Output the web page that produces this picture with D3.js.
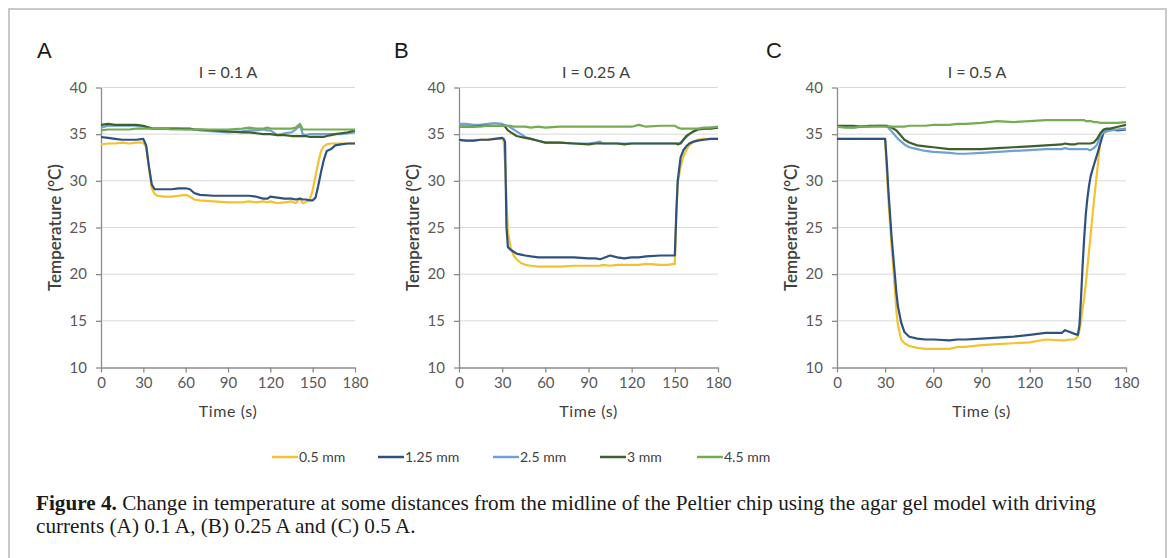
<!DOCTYPE html>
<html>
<head>
<meta charset="utf-8">
<script src="https://cdn.jsdelivr.net/npm/d3@7"></script>
<style>
  html, body { margin: 0; padding: 0; background: #fff; }
  svg { display: block; }
  .tick text { font-family: Lato, "Open Sans", sans-serif; font-size: 15px; fill: #595959; }
</style>
</head>
<body>
<svg id="chart" width="1171" height="558"></svg>
<script>
// ---- data ----
const seriesNames = ["0.5 mm", "1.25 mm", "2.5 mm", "3 mm", "4.5 mm"];
const seriesColors = ["#f4c131", "#2d5181", "#6ea2d5", "#3e5e2b", "#74ad50"];
const xTicks = [0, 30, 60, 90, 120, 150, 180];
const yTicks = [10, 15, 20, 25, 30, 35, 40];

// panel A, I = 0.1 A
const timeA = [0, 5, 10, 15, 20, 25, 30, 32, 34, 36, 38, 40, 45, 50, 55, 60, 63, 66, 70, 80, 90, 100, 105, 110, 115, 118, 120, 125, 130, 135, 138, 141, 143, 145, 148, 150, 152, 154, 156, 158, 160, 163, 166, 170, 175, 180];
const a05  = [33.9, 34.0, 34.0, 34.1, 34.0, 34.1, 34.1, 33.6, 31.4, 29.2, 28.6, 28.4, 28.3, 28.3, 28.4, 28.5, 28.3, 28.0, 27.9, 27.8, 27.7, 27.7, 27.8, 27.7, 27.8, 27.7, 27.8, 27.6, 27.7, 27.8, 27.6, 28.1, 27.6, 27.7, 28.0, 29.0, 30.5, 32.0, 33.2, 33.7, 33.9, 34.0, 34.0, 34.0, 34.0, 34.0];
const a125 = [34.7, 34.6, 34.5, 34.4, 34.4, 34.4, 34.5, 33.8, 31.5, 29.6, 29.1, 29.1, 29.1, 29.1, 29.2, 29.2, 29.1, 28.7, 28.5, 28.4, 28.4, 28.4, 28.4, 28.3, 28.1, 28.1, 28.3, 28.2, 28.1, 28.1, 28.0, 28.1, 28.0, 28.0, 27.9, 27.9, 28.2, 29.5, 31.0, 32.3, 33.2, 33.4, 33.8, 33.9, 34.0, 34.0];
const a25  = [35.7, 35.9, 35.9, 35.9, 35.9, 35.9, 35.8, 35.8, 35.7, 35.6, 35.6, 35.6, 35.6, 35.6, 35.6, 35.5, 35.5, 35.5, 35.4, 35.3, 35.2, 35.3, 35.4, 35.4, 35.5, 35.4, 35.4, 34.9, 35.1, 35.2, 35.5, 35.9, 35.0, 34.9, 35.0, 35.0, 35.0, 35.0, 35.0, 35.0, 35.0, 35.0, 35.0, 35.0, 35.1, 35.2];
const a3   = [36.0, 36.1, 36.0, 36.0, 36.0, 36.0, 35.9, 35.8, 35.7, 35.6, 35.6, 35.6, 35.6, 35.6, 35.6, 35.6, 35.6, 35.5, 35.5, 35.4, 35.3, 35.2, 35.2, 35.1, 35.0, 35.0, 35.0, 34.9, 34.9, 34.8, 34.8, 34.8, 34.8, 34.8, 34.7, 34.7, 34.7, 34.7, 34.7, 34.7, 34.8, 34.9, 35.0, 35.1, 35.2, 35.4];
const a45  = [35.4, 35.5, 35.5, 35.5, 35.5, 35.6, 35.6, 35.6, 35.6, 35.6, 35.6, 35.6, 35.6, 35.5, 35.5, 35.5, 35.5, 35.5, 35.5, 35.5, 35.5, 35.6, 35.7, 35.6, 35.6, 35.7, 35.6, 35.6, 35.6, 35.6, 35.7, 36.1, 35.5, 35.5, 35.5, 35.5, 35.5, 35.5, 35.5, 35.5, 35.5, 35.5, 35.5, 35.5, 35.5, 35.5];

// panel B, I = 0.25 A
const timeB = [0, 5, 10, 15, 20, 25, 30, 31, 32, 33, 34, 36, 38, 40, 43, 46, 50, 55, 60, 70, 80, 90, 95, 98, 100, 105, 110, 115, 120, 125, 130, 140, 145, 150, 151, 152, 154, 156, 158, 160, 163, 166, 170, 175, 180];
const b05  = [34.3, 34.3, 34.3, 34.4, 34.4, 34.5, 34.5, 34.3, 32.0, 28.0, 24.5, 22.8, 22.0, 21.6, 21.2, 21.0, 20.9, 20.8, 20.8, 20.8, 20.9, 20.9, 20.9, 20.9, 21.0, 20.9, 21.0, 21.0, 21.0, 21.0, 21.1, 21.0, 21.0, 21.1, 26.0, 29.8, 31.5, 32.6, 33.3, 33.8, 34.2, 34.4, 34.5, 34.5, 34.5];
const b125 = [34.4, 34.3, 34.3, 34.4, 34.4, 34.5, 34.6, 34.5, 34.2, 25.0, 22.9, 22.6, 22.4, 22.2, 22.1, 22.0, 21.9, 21.8, 21.8, 21.8, 21.8, 21.7, 21.7, 21.6, 21.7, 22.0, 21.8, 21.7, 21.8, 21.8, 21.9, 22.0, 22.0, 22.0, 26.5, 30.0, 32.5, 33.3, 33.7, 34.0, 34.2, 34.3, 34.4, 34.5, 34.5];
const b25  = [36.1, 36.1, 36.0, 36.0, 36.1, 36.2, 36.1, 36.0, 36.0, 35.9, 35.9, 35.7, 35.5, 35.3, 35.0, 34.7, 34.5, 34.3, 34.1, 34.1, 34.0, 34.0, 34.1, 34.2, 34.0, 34.0, 34.0, 34.0, 34.0, 34.0, 34.0, 34.0, 34.0, 34.0, 34.0, 34.0, 34.1, 34.4, 34.7, 35.0, 35.3, 35.5, 35.6, 35.7, 35.7];
const b3   = [35.8, 35.8, 35.8, 35.9, 35.9, 35.9, 35.9, 35.9, 35.8, 35.6, 35.4, 35.2, 35.0, 34.8, 34.7, 34.6, 34.5, 34.3, 34.1, 34.1, 34.0, 33.9, 34.0, 34.0, 34.0, 34.0, 34.0, 33.9, 34.0, 34.0, 34.0, 34.0, 34.0, 34.0, 34.0, 33.9, 34.0, 34.4, 34.8, 35.0, 35.3, 35.5, 35.6, 35.6, 35.7];
const b45  = [35.8, 35.8, 35.8, 35.8, 35.9, 35.9, 35.9, 35.9, 35.9, 35.9, 35.9, 35.9, 35.8, 35.8, 35.8, 35.8, 35.7, 35.8, 35.7, 35.8, 35.8, 35.8, 35.8, 35.8, 35.8, 35.8, 35.8, 35.8, 35.8, 36.0, 35.8, 35.9, 35.9, 35.9, 35.8, 35.7, 35.6, 35.6, 35.6, 35.6, 35.6, 35.6, 35.7, 35.7, 35.8];

// panel C, I = 0.5 A
const timeC = [0, 5, 10, 15, 20, 25, 29, 30, 31, 32, 33, 34, 35, 36, 37, 38, 40, 42, 45, 50, 55, 60, 70, 75, 80, 90, 100, 110, 120, 130, 140, 142, 145, 148, 150, 151, 152, 153, 154, 155, 156, 157, 158, 160, 162, 164, 166, 168, 170, 175, 180];
const c05  = [34.5, 34.5, 34.5, 34.5, 34.5, 34.5, 34.5, 34.4, 31.0, 28.0, 25.5, 23.0, 20.8, 18.5, 16.0, 14.5, 13.0, 12.6, 12.3, 12.1, 12.0, 12.0, 12.0, 12.2, 12.2, 12.4, 12.5, 12.6, 12.7, 13.0, 12.9, 12.9, 13.0, 13.0, 13.3, 14.0, 15.0, 16.3, 17.5, 19.0, 20.8, 22.5, 24.3, 27.8, 31.0, 34.2, 35.1, 35.3, 35.4, 35.5, 35.6];
const c125 = [34.5, 34.5, 34.5, 34.5, 34.5, 34.5, 34.5, 34.5, 32.0, 29.0, 26.5, 24.0, 22.0, 20.0, 18.0, 16.5, 14.8, 13.8, 13.3, 13.1, 13.0, 13.0, 12.9, 13.0, 13.0, 13.1, 13.2, 13.3, 13.5, 13.7, 13.7, 14.0, 13.8, 13.6, 13.5, 14.5, 17.5, 21.0, 24.0, 26.5, 28.2, 29.5, 30.5, 31.7, 32.8, 34.0, 35.2, 35.4, 35.5, 35.4, 35.5];
const c25  = [35.8, 35.8, 35.7, 35.8, 35.8, 35.9, 35.9, 35.9, 35.8, 35.7, 35.5, 35.3, 35.1, 34.9, 34.7, 34.5, 34.2, 33.9, 33.6, 33.4, 33.2, 33.1, 33.0, 32.9, 32.9, 33.0, 33.1, 33.2, 33.3, 33.4, 33.4, 33.5, 33.4, 33.4, 33.4, 33.4, 33.4, 33.4, 33.4, 33.4, 33.4, 33.3, 33.3, 33.5, 33.9, 34.8, 35.2, 35.3, 35.4, 35.5, 35.6];
const c3   = [35.9, 35.9, 35.9, 35.8, 35.9, 35.9, 35.9, 35.9, 35.9, 35.8, 35.8, 35.7, 35.6, 35.5, 35.4, 35.2, 34.8, 34.4, 34.1, 33.8, 33.7, 33.6, 33.4, 33.4, 33.4, 33.4, 33.5, 33.6, 33.7, 33.8, 33.9, 34.0, 33.9, 33.9, 34.0, 34.0, 34.0, 34.0, 34.0, 34.0, 34.0, 34.0, 34.0, 34.1, 34.5, 35.1, 35.5, 35.6, 35.6, 35.8, 36.0];
const c45  = [35.8, 35.7, 35.7, 35.8, 35.8, 35.8, 35.8, 35.8, 35.8, 35.8, 35.8, 35.8, 35.8, 35.8, 35.8, 35.8, 35.8, 35.8, 35.9, 35.9, 35.9, 36.0, 36.0, 36.1, 36.1, 36.2, 36.4, 36.3, 36.4, 36.5, 36.5, 36.5, 36.5, 36.5, 36.5, 36.5, 36.5, 36.5, 36.5, 36.4, 36.4, 36.4, 36.4, 36.3, 36.3, 36.2, 36.2, 36.2, 36.2, 36.2, 36.3];

const panels = [
    { letter: "A", title: "I = 0.1 A",  time: timeA, values: [a05, a125, a25, a3, a45], left: 101, right: 355,  letterX: 37,  titleX: 228 },
    { letter: "B", title: "I = 0.25 A", time: timeB, values: [b05, b125, b25, b3, b45], left: 459, right: 718,  letterX: 394, titleX: 596 },
    { letter: "C", title: "I = 0.5 A",  time: timeC, values: [c05, c125, c25, c3, c45], left: 837, right: 1126, letterX: 766, titleX: 977 }
];

const captionBold = "Figure 4.";
const captionLines = [
    " Change in temperature at some distances from the midline of the Peltier chip using the agar gel model with driving",
    "currents (A) 0.1 A, (B) 0.25 A and (C) 0.5 A."
];

// ---- drawing ----
const svg = d3.select("#chart");
const plotTop = 87.5, plotBottom = 367.5;
const sansFont = "Lato, 'Open Sans', sans-serif";
const serifFont = "'Liberation Serif', 'Times New Roman', serif";

// outer frame
svg.append("rect")
    .attr("x", 9).attr("y", 9)
    .attr("width", 1157).attr("height", 570)
    .attr("fill", "none")
    .attr("stroke", "#c9c9c9")
    .attr("stroke-width", 2);

const y = d3.scaleLinear().domain([10, 40]).range([plotBottom, plotTop]);

panels.forEach(p => {
    const x = d3.scaleLinear().domain([0, 180]).range([p.left, p.right]);
    const g = svg.append("g");

    // gridlines
    g.selectAll("line.grid")
        .data(yTicks.filter(t => t > 10))
        .enter().append("line")
        .attr("class", "grid")
        .attr("x1", p.left).attr("x2", p.right)
        .attr("y1", d => y(d)).attr("y2", d => y(d))
        .attr("stroke", "#d9d9d9")
        .attr("stroke-width", 1);

    // axes
    const yAxis = g.append("g")
        .attr("transform", `translate(${p.left},0)`)
        .call(d3.axisLeft(y).tickValues(yTicks).tickSize(5).tickPadding(9).tickSizeOuter(0));
    const xAxis = g.append("g")
        .attr("transform", `translate(0,${plotBottom})`)
        .call(d3.axisBottom(x).tickValues(xTicks).tickSize(5).tickPadding(5).tickSizeOuter(0));
    [yAxis, xAxis].forEach(a => {
        a.select(".domain").attr("stroke", "#8c8c8c").attr("stroke-width", 1.3);
        a.selectAll(".tick line").attr("stroke", "#8c8c8c").attr("stroke-width", 1.3);
    });

    // series lines
    const line = d3.line()
        .x((d, i) => x(p.time[i]))
        .y(d => y(d));
    p.values.forEach((vals, k) => {
        g.append("path")
            .datum(vals)
            .attr("d", line)
            .attr("fill", "none")
            .attr("stroke", seriesColors[k])
            .attr("stroke-width", 2.2)
            .attr("stroke-linejoin", "round");
    });

    // labels
    g.append("text")
        .text(p.letter)
        .attr("x", p.letterX).attr("y", 58)
        .attr("font-family", "'Liberation Sans', Arial, sans-serif")
        .attr("font-size", 22)
        .attr("fill", "#1a1a1a");
    g.append("text")
        .text(p.title)
        .attr("x", p.titleX).attr("y", 78)
        .attr("text-anchor", "middle")
        .attr("font-family", sansFont)
        .attr("font-size", 16)
        .attr("fill", "#404040");
    g.append("text")
        .text("Time (s)")
        .attr("x", (p.left + p.right) / 2).attr("y", 417)
        .attr("text-anchor", "middle")
        .attr("font-family", sansFont)
        .attr("font-size", 16)
        .attr("letter-spacing", 0.6)
        .attr("fill", "#404040");
    g.append("text")
        .text("Temperature (°C)")
        .attr("text-anchor", "middle")
        .attr("transform", `translate(${p.left - 40},${(plotTop + plotBottom) / 2})rotate(-90)`)
        .attr("font-family", sansFont)
        .attr("font-size", 17)
        .attr("font-weight", 600)
        .attr("fill", "#404040");
});

// legend
const legendX = [272, 378, 493, 600, 697];
const legend = svg.append("g");
seriesNames.forEach((name, k) => {
    legend.append("line")
        .attr("x1", legendX[k]).attr("x2", legendX[k] + 26)
        .attr("y1", 457).attr("y2", 457)
        .attr("stroke", seriesColors[k])
        .attr("stroke-width", 2.5);
    legend.append("text")
        .text(name)
        .attr("x", legendX[k] + 27).attr("y", 462)
        .attr("font-family", sansFont)
        .attr("font-size", 14)
        .attr("fill", "#404040");
});

// caption
const cap = svg.append("text")
    .attr("x", 36).attr("y", 510)
    .attr("font-family", serifFont)
    .attr("font-size", 21.2)
    .attr("fill", "#1a1a1a");
cap.append("tspan").attr("font-weight", "bold").text(captionBold);
cap.append("tspan").text(captionLines[0]);
svg.append("text")
    .attr("x", 36).attr("y", 533)
    .attr("font-family", serifFont)
    .attr("font-size", 21.2)
    .attr("fill", "#1a1a1a")
    .text(captionLines[1]);
</script>
</body>
</html>
